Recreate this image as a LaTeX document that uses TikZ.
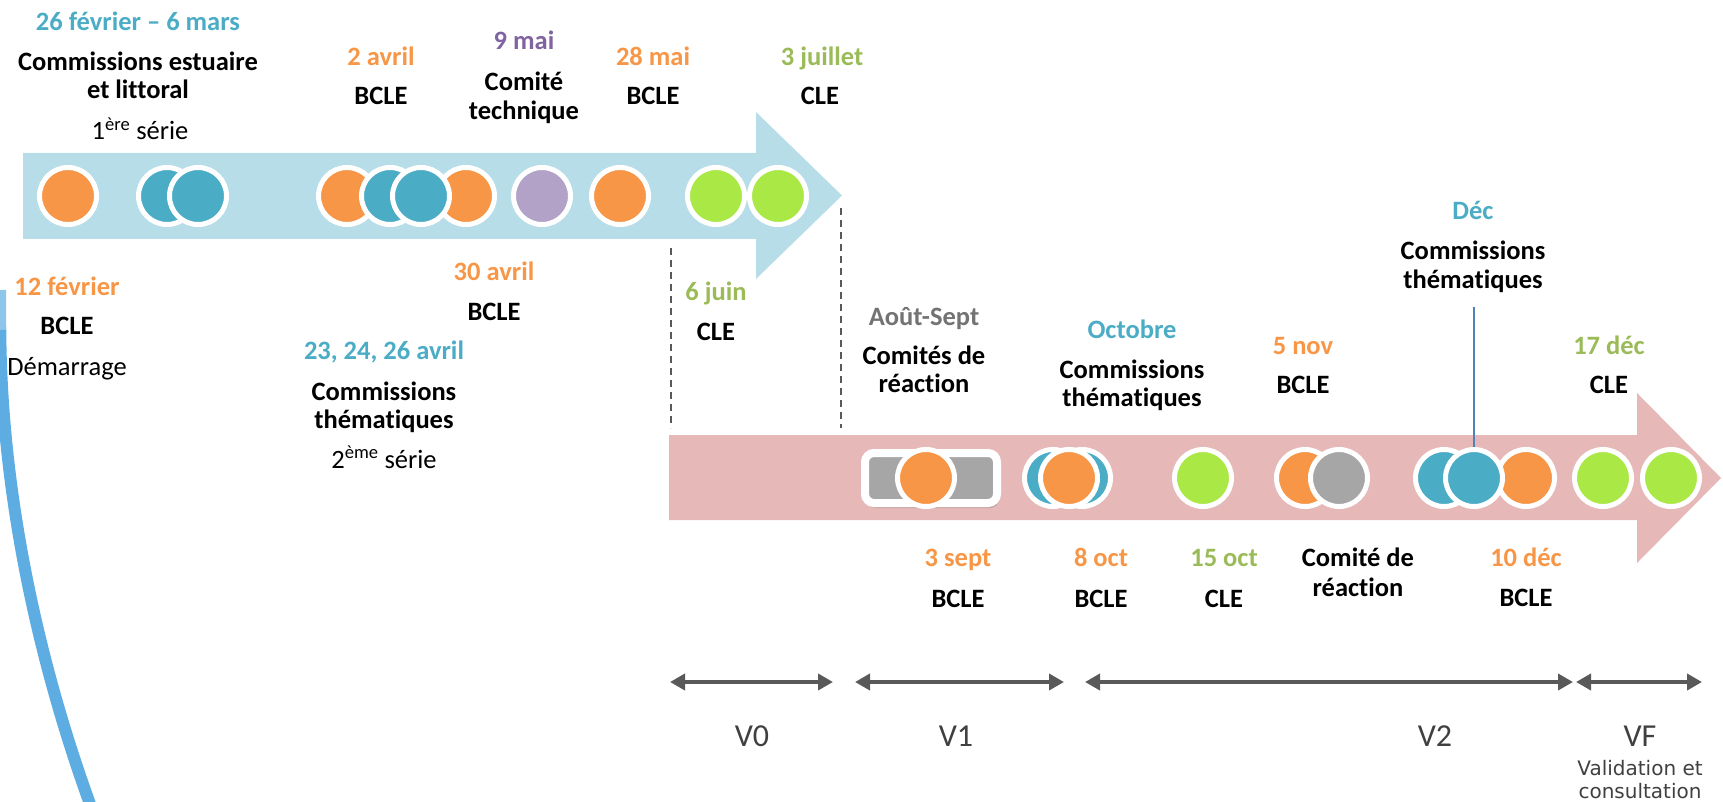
\documentclass[tikz,border=0pt]{standalone}
\usepackage{fontspec}
\setmainfont{Carlito}[Ligatures={NoCommon}]
\newfontfamily\vfont{DejaVu Sans}
\usetikzlibrary{arrows.meta,shadows}
\definecolor{cOrange}{HTML}{F79646}
\definecolor{cTeal}{HTML}{4BACC6}
\definecolor{cPurpleT}{HTML}{8064A2}
\definecolor{cPurple}{HTML}{B3A2C7}
\definecolor{cGreenT}{HTML}{9BBB59}
\definecolor{cGreen}{HTML}{AAE846}
\definecolor{cGray}{HTML}{A6A6A6}
\definecolor{cGrayT}{HTML}{737373}
\definecolor{cBlueBand}{HTML}{B7DEE8}
\definecolor{cPinkBand}{HTML}{E6B9B8}
\definecolor{cDark}{HTML}{595959}
\definecolor{cVtext}{HTML}{404040}
\definecolor{cLine}{HTML}{4F81BD}
\definecolor{cCurve}{HTML}{5DADE2}
\begin{document}
\begin{tikzpicture}[x=1pt,y=-1pt,
  evtlab/.style={font=\fontsize{26.5}{28}\selectfont\bfseries, inner sep=0pt, anchor=base},
  datelab/.style={evtlab, text=#1},
  sublab/.style={font=\fontsize{26.5}{28}\selectfont, inner sep=0pt, anchor=base},
  ball/.style={circle, fill=#1, draw=white, line width=5pt, minimum size=57pt, inner sep=0pt},
  varrow/.style={draw=cDark, line width=4pt, {Triangle[length=15pt,width=16pt]}-{Triangle[length=15pt,width=16pt]}},
  vlab/.style={font=\fontsize{32}{34}\selectfont, text=cVtext, inner sep=0pt, anchor=base},
  vsmall/.style={font=\vfont\fontsize{20}{22}\selectfont, text=cVtext, inner sep=0pt, anchor=base},
  dashline/.style={draw=cDark, line width=1.2pt, dash pattern=on 7pt off 5pt}
]
\useasboundingbox (0,0) rectangle (1723,802);

% left decorative curve
\draw[line width=12pt, cCurve!70] (0,290) .. controls (0,300) and (0,310) .. (0.3,330);
\draw[line width=12pt, cCurve] (0.3,330) .. controls (1,480) and (33,650) .. (94,815);

% bands
\fill[cBlueBand] (23,153) -- (756,153) -- (756,112) -- (842,195.5) -- (756,279) -- (756,239) -- (23,239) -- cycle;
\fill[cPinkBand] (669,435) -- (1637,435) -- (1637,393) -- (1721,478) -- (1637,563) -- (1637,520) -- (669,520) -- cycle;

% dashed separators
\coordinate (ds1t) at (671,248);
\coordinate (ds1b) at (671,428);
\coordinate (ds2t) at (841,208);
\coordinate (ds2b) at (841,428);
\draw[dashline] (ds1t) -- (ds1b);
\draw[dashline] (ds2t) -- (ds2b);

% top circles
\node[ball=cOrange] (a1) at (68,196) {};
\node[ball=cTeal] (a2) at (167,196) {};
\node[ball=cTeal] (a3) at (198,196) {};
\node[ball=cOrange] (a4) at (347,196) {};
\node[ball=cOrange] (a7) at (466,196) {};
\node[ball=cTeal] (a5) at (390,196) {};
\node[ball=cTeal] (a6) at (421,196) {};
\node[ball=cPurple] (a8) at (542,196) {};
\node[ball=cOrange] (a9) at (620,196) {};
\node[ball=cGreen] (a10) at (716,196) {};
\node[ball=cGreen] (a11) at (778,196) {};

% bottom circles
\node[rectangle, rounded corners=9pt, fill=cGray, draw=white, line width=8pt,
      minimum width=132pt, minimum height=50pt, inner sep=0pt,
      drop shadow={opacity=0.35, shadow xshift=2pt, shadow yshift=-5pt}] (b0) at (931,478) {};
\node[ball=cOrange] (b1) at (926,478) {};
\node[ball=cTeal] (b2) at (1053,478) {};
\node[ball=cTeal] (b3) at (1082,478) {};
\node[ball=cOrange] (b4) at (1069,478) {};
\node[ball=cGreen] (b5) at (1203,478) {};
\node[ball=cOrange] (b6) at (1305,478) {};
\node[ball=cGray] (b7) at (1339,478) {};
\node[ball=cTeal] (b8) at (1444,478) {};
\node[ball=cOrange] (b10) at (1526,478) {};
\node[ball=cTeal] (b9) at (1474,478) {};
\node[ball=cGreen] (b11) at (1603,478) {};
\node[ball=cGreen] (b12) at (1671,478) {};

% top labels
\node[datelab=cTeal] (d1) at (138,31) {26 février – 6 mars};
\node[evtlab] (t1a) at (138,71) {Commissions estuaire};
\node[evtlab] (t1b) at (138,99) {et littoral};
\node[sublab] (s1) at (140,140) {1\textsuperscript{ère} série};
\node[datelab=cOrange] (d2) at (381,66) {2 avril};
\node[evtlab] (t2) at (381,105) {BCLE};
\node[datelab=cPurpleT] (d3) at (524,50) {9 mai};
\node[evtlab] (t3a) at (524,91) {Comité};
\node[evtlab] (t3b) at (524,120) {technique};
\node[datelab=cOrange] (d4) at (653,66) {28 mai};
\node[evtlab] (t4) at (653,105) {BCLE};
\node[datelab=cGreenT] (d5) at (822,66) {3 juillet};
\node[evtlab] (t5) at (820,105) {CLE};

% labels under top band
\node[datelab=cOrange] (d6) at (67,295) {12 février};
\node[evtlab] (t6) at (67,334) {BCLE};
\node[sublab] (s6) at (67,375) {Démarrage};
\node[datelab=cOrange] (d7) at (494,280) {30 avril};
\node[evtlab] (t7) at (494,320) {BCLE};
\node[datelab=cTeal] (d8) at (384,359) {23, 24, 26 avril};
\node[evtlab] (t8a) at (384,400) {Commissions};
\node[evtlab] (t8b) at (384,428) {thématiques};
\node[sublab] (s8) at (384,468) {2\textsuperscript{ème} série};
\node[datelab=cGreenT] (d9) at (716,300) {6 juin};
\node[evtlab] (t9) at (716,340) {CLE};

% labels above pink band
\node[datelab=cGrayT] (d10) at (924,325) {Août-Sept};
\node[evtlab] (t10a) at (924,364) {Comités de};
\node[evtlab] (t10b) at (924,392) {réaction};
\node[datelab=cTeal] (d11) at (1132,338) {Octobre};
\node[evtlab] (t11a) at (1132,378) {Commissions};
\node[evtlab] (t11b) at (1132,406) {thématiques};
\node[datelab=cOrange] (d12) at (1303,354) {5 nov};
\node[evtlab] (t12) at (1303,393) {BCLE};
\node[datelab=cTeal] (d13) at (1473,220) {Déc};
\node[evtlab] (t13a) at (1473,260) {Commissions};
\node[evtlab] (t13b) at (1473,288) {thématiques};
\node[datelab=cGreenT] (d14) at (1609,354) {17 déc};
\node[evtlab] (t14) at (1609,393) {CLE};

% Déc connector
\coordinate (decTop) at (1474,307);
\draw[cLine, line width=1.5pt] (decTop) -- (b9.north);

% labels under pink band
\node[datelab=cOrange] (d15) at (958,566) {3 sept};
\node[evtlab] (t15) at (958,607) {BCLE};
\node[datelab=cOrange] (d16) at (1101,566) {8 oct};
\node[evtlab] (t16) at (1101,607) {BCLE};
\node[datelab=cGreenT] (d17) at (1224,566) {15 oct};
\node[evtlab] (t17) at (1224,607) {CLE};
\node[evtlab] (t18a) at (1358,566) {Comité de};
\node[evtlab] (t18b) at (1358,596) {réaction};
\node[datelab=cOrange] (d19) at (1526,566) {10 déc};
\node[evtlab] (t19) at (1526,606) {BCLE};

% version arrows
\coordinate (v0l) at (670,682); \coordinate (v0r) at (833,682);
\coordinate (v1l) at (855,682); \coordinate (v1r) at (1064,682);
\coordinate (v2l) at (1085,682); \coordinate (v2r) at (1573,682);
\coordinate (vfl) at (1576,682); \coordinate (vfr) at (1702,682);
\draw[varrow] (v0l) -- (v0r);
\draw[varrow] (v1l) -- (v1r);
\draw[varrow] (v2l) -- (v2r);
\draw[varrow] (vfl) -- (vfr);

\node[vlab] (V0) at (752,746) {V0};
\node[vlab] (V1) at (956,746) {V1};
\node[vlab] (V2) at (1435,746) {V2};
\node[vlab] (VF) at (1640,746) {VF};
\node[vsmall] (vf1) at (1640,775) {Validation et};
\node[vsmall] (vf2) at (1640,798) {consultation};
\end{tikzpicture}
\end{document}
